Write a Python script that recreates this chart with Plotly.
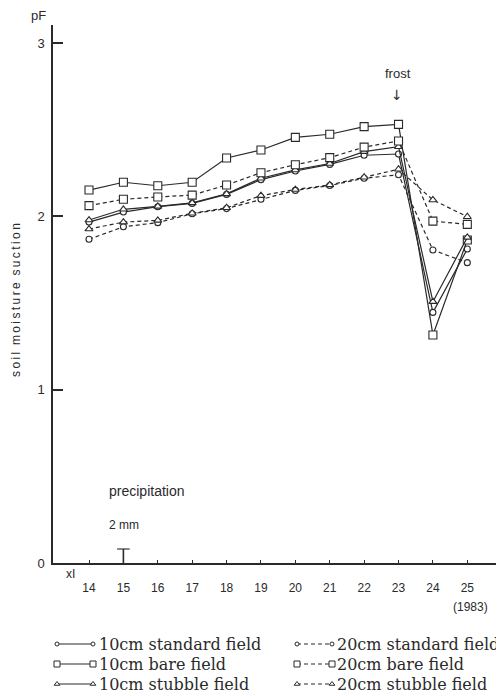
import plotly.graph_objects as go

# window is 504x696; the page body adds an 8px margin, so the figure is 496x688
OFF = 8
W, H = 504 - OFF, 696 - OFF

# ---------------- data ----------------
days = [14, 15, 16, 17, 18, 19, 20, 21, 22, 23, 24, 25]
std10 = [1.967, 2.025, 2.056, 2.075, 2.127, 2.212, 2.262, 2.300, 2.353, 2.360, 1.446, 1.812]
bare10 = [2.152, 2.197, 2.177, 2.197, 2.337, 2.383, 2.456, 2.474, 2.518, 2.531, 1.316, 1.864]
stub10 = [1.979, 2.041, 2.058, 2.078, 2.130, 2.220, 2.268, 2.305, 2.374, 2.402, 1.508, 1.879]
std20 = [1.868, 1.940, 1.964, 2.015, 2.045, 2.099, 2.150, 2.178, 2.220, 2.240, 1.806, 1.733]
bare20 = [2.062, 2.099, 2.112, 2.123, 2.181, 2.252, 2.298, 2.339, 2.400, 2.435, 1.973, 1.954]
stub20 = [1.927, 1.967, 1.977, 2.018, 2.050, 2.120, 2.155, 2.182, 2.226, 2.272, 2.095, 1.998]

precip_days = [15]
precip_mm = [2]

y_ticks = [0, 1, 2, 3]
x_ticks = days

series = [
    ("10cm standard field", std10, "solid", "circle"),
    ("10cm bare field", bare10, "solid", "square"),
    ("10cm stubble field", stub10, "solid", "triangle-up"),
    ("20cm standard field", std20, "dash", "circle"),
    ("20cm bare field", bare20, "dash", "square"),
    ("20cm stubble field", stub20, "dash", "triangle-up"),
]

INK = "#2a2a2a"
DASH = "4px,3px"
msize = {"circle": 6, "square": 8, "triangle-up": 7}


def fx(px):
    return (px - OFF) / W


def fy(py):
    return 1 - (py - OFF) / H


fig = go.Figure()

for name, vals, style, sym in series:
    fig.add_trace(go.Scatter(
        x=days, y=vals, mode="lines+markers", name=name,
        line=dict(color=INK, width=1.2, dash=(DASH if style == "dash" else "solid")),
        marker=dict(symbol=sym, size=msize[sym], color="white",
                    line=dict(color=INK, width=1.1)),
        showlegend=False, xaxis="x", yaxis="y"))

# precipitation (secondary scale)
for d, mm in zip(precip_days, precip_mm):
    fig.add_trace(go.Scatter(
        x=[d, d], y=[0, mm], mode="lines+markers",
        line=dict(color=INK, width=1.6),
        marker=dict(symbol="line-ew", size=[0, 9], color=INK,
                    line=dict(color=INK, width=1.6)),
        showlegend=False, xaxis="x", yaxis="y2"))

# ---------------- custom legend ----------------
leg_rows = [644, 664, 684]
leg_cols = [(57, 93, 97), (297, 332, 335)]
for i, (name, vals, style, sym) in enumerate(series):
    col = i // 3
    row = i % 3
    x0, x1, xt = leg_cols[col]
    yy = leg_rows[row]
    fig.add_trace(go.Scatter(
        x=[x0, x1], y=[yy, yy], mode="lines+markers",
        line=dict(color=INK, width=1.1, dash=(DASH if style == "dash" else "solid")),
        marker=dict(symbol=sym, size=msize[sym] - 2, color="white",
                    line=dict(color=INK, width=1)),
        showlegend=False, xaxis="x3", yaxis="y3"))
    fig.add_annotation(x=xt, y=yy, xref="x3", yref="y3", text=name,
                       showarrow=False, xanchor="left", yanchor="middle",
                       font=dict(family="DejaVu Serif", size=16, color=INK))

# ---------------- layout ----------------
x_left, x_right = 53, 504
y_top, y_bot = 25, 563
xr = [12.953, 26.067]
yr = [0, (y_bot - y_top) / 173.3]
y2r = [0, 2 * (y_bot - y_top) / 14.0]

axis_font = dict(family="Liberation Sans", size=12, color=INK)

fig.update_layout(
    template="none",
    width=W, height=H,
    margin=dict(l=0, r=0, t=0, b=0),
    paper_bgcolor="white", plot_bgcolor="rgba(0,0,0,0)",
    xaxis=dict(domain=[fx(x_left), fx(x_right)], range=xr,
               tickvals=x_ticks, ticktext=[str(t) for t in x_ticks],
               ticks="inside", ticklen=3, tickwidth=1.2, tickcolor=INK,
               showline=True, linecolor=INK, linewidth=1.5,
               showgrid=False, zeroline=False, tickfont=axis_font,
               ticklabelstandoff=13, anchor="y", automargin=False),
    yaxis=dict(domain=[fy(y_bot), fy(y_top)], range=yr,
               tickvals=y_ticks, ticktext=[str(t) for t in y_ticks],
               ticks="inside", ticklen=10, tickwidth=1.5, tickcolor=INK,
               showline=True, linecolor=INK, linewidth=1.5,
               showgrid=False, zeroline=False,
               tickfont=dict(family="Liberation Sans", size=13, color=INK),
               ticklabelstandoff=4, anchor="x", automargin=False),
    yaxis2=dict(domain=[fy(y_bot), fy(y_top)], range=y2r, overlaying="y",
                visible=False, anchor="x"),
    xaxis3=dict(domain=[0, 1], range=[OFF, W + OFF], visible=False, anchor="y3"),
    yaxis3=dict(domain=[0, fy(628)], range=[H + OFF, 628], visible=False, anchor="x3"),
)

annots = [
    dict(text="pF", x=fx(38), y=fy(15), size=13, fam="Liberation Sans"),
    dict(text="frost", x=fx(398), y=fy(73), size=13, fam="Liberation Sans"),
    dict(text="\u2193", x=fx(397), y=fy(95), size=14, fam="DejaVu Sans"),
    dict(text="precipitation", x=fx(147), y=fy(491), size=14, fam="Liberation Sans"),
    dict(text="2 mm", x=fx(124), y=fy(525), size=12, fam="Liberation Sans"),
    dict(text="xI", x=fx(70), y=fy(574), size=12, fam="Liberation Sans"),
    dict(text="(1983)", x=fx(470), y=fy(607), size=12, fam="Liberation Sans"),
]
for a in annots:
    fig.add_annotation(x=a["x"], y=a["y"], xref="paper", yref="paper",
                       text=a["text"], showarrow=False,
                       xanchor="center", yanchor="middle",
                       font=dict(family=a["fam"], size=a["size"], color=INK))

TS = "\u2009"
ylabel = "  ".join(TS.join(w) for w in ["soil", "moisture", "suction"])
fig.add_annotation(x=fx(16), y=fy(300), xref="paper", yref="paper",
                   text=ylabel, textangle=-90, showarrow=False,
                   xanchor="center", yanchor="middle",
                   font=dict(family="Liberation Sans", size=12, color=INK))

fig.write_html("out.html")
